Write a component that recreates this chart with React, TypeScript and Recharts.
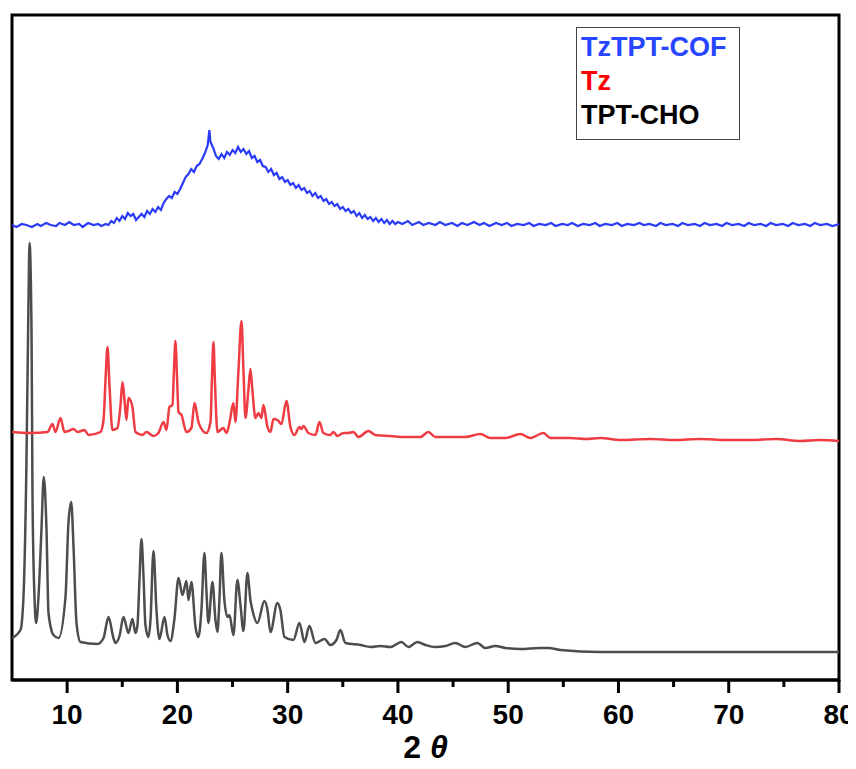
import React from 'react';
import { LineChart, Line, XAxis, YAxis, Label, ReferenceArea } from 'recharts';

// intensity, in px above the x axis (no y scale shown)
const tptCho: [number, number][] = [
  [5.0, 42], [5.77, 50], [6.04, 83], [6.31, 217], [6.5, 383], [6.59, 437], [6.77, 350], [6.86, 183],
  [7.04, 83], [7.19, 57], [7.4, 83], [7.67, 150], [7.88, 203], [8.13, 150], [8.31, 67], [8.76, 45],
  [9.22, 42], [9.85, 83], [10.12, 157], [10.37, 178], [10.58, 133], [10.85, 57], [11.21, 38], [12.75, 36],
  [13.3, 42], [13.75, 63], [14.2, 42], [14.38, 37], [14.75, 44], [15.11, 63], [15.56, 47], [15.92, 61],
  [16.2, 47], [16.38, 55], [16.56, 100], [16.74, 141], [16.92, 105], [17.1, 55], [17.38, 43], [17.56, 60],
  [17.83, 129], [18.1, 70], [18.37, 41], [18.83, 63], [19.1, 45], [19.37, 39], [19.73, 61], [20.1, 102],
  [20.46, 85], [20.82, 99], [21.0, 80], [21.27, 98], [21.64, 53], [21.91, 43], [22.18, 70], [22.45, 127],
  [22.63, 90], [22.81, 57], [23.18, 98], [23.45, 60], [23.63, 48], [23.81, 80], [23.99, 127], [24.26, 80],
  [24.54, 63], [24.72, 65], [25.08, 45], [25.44, 100], [25.72, 75], [25.99, 49], [26.35, 107], [26.62, 80],
  [26.8, 70], [27.26, 57], [27.89, 79], [28.17, 70], [28.44, 48], [29.07, 77], [29.34, 70], [29.71, 43],
  [30.52, 40], [31.07, 57], [31.52, 38], [31.97, 54], [32.52, 37], [33.34, 41], [33.87, 35], [34.42, 40],
  [34.78, 50], [35.24, 37], [36.6, 35], [37.51, 33], [38.41, 34], [39.32, 33], [40.31, 38], [40.95, 33],
  [41.76, 38], [42.49, 35], [43.39, 33], [44.3, 34], [45.21, 37], [46.11, 33], [47.2, 37], [47.93, 32],
  [48.83, 34], [49.74, 32], [51.1, 31], [52.91, 32], [53.64, 32], [54.73, 30], [58.35, 28], [62.89, 28],
  [67.42, 28], [71.95, 28], [76.49, 28], [80, 28],
];

const tz: [number, number][] = [
  [5.0, 248], [6.68, 247], [8.22, 248], [8.67, 256], [8.94, 248], [9.4, 262], [9.76, 248], [10.12, 249],
  [10.58, 251], [10.94, 248], [11.57, 250], [11.94, 245], [13.02, 248], [13.3, 260], [13.48, 300], [13.66, 333],
  [13.84, 295], [14.11, 250], [14.56, 252], [14.84, 275], [15.02, 298], [15.2, 280], [15.38, 260], [15.56, 282],
  [15.83, 277], [15.92, 273], [16.2, 248], [16.83, 245], [17.19, 248], [17.83, 244], [18.28, 247], [18.74, 258],
  [19.01, 250], [19.28, 273], [19.55, 275], [19.69, 310], [19.82, 339], [19.96, 305], [20.1, 268], [20.37, 265],
  [20.82, 248], [21.27, 252], [21.55, 277], [21.91, 258], [22.09, 253], [22.63, 247], [23.0, 258], [23.13, 300],
  [23.27, 338], [23.4, 300], [23.63, 248], [24.17, 252], [24.45, 247], [24.72, 257], [25.08, 277], [25.26, 258],
  [25.54, 310], [25.81, 359], [25.99, 310], [26.17, 262], [26.44, 290], [26.62, 311], [26.8, 290], [27.08, 262],
  [27.35, 267], [27.62, 262], [27.8, 275], [28.17, 253], [28.44, 248], [28.71, 261], [29.07, 260], [29.43, 256],
  [29.89, 279], [30.25, 253], [30.61, 245], [31.07, 253], [31.25, 251], [31.43, 254], [31.88, 247], [32.52, 245],
  [32.88, 258], [33.24, 247], [33.87, 245], [34.15, 248], [34.51, 244], [35.06, 247], [35.51, 247], [35.96, 248],
  [36.42, 243], [37.32, 249], [37.96, 245], [39.32, 244], [40.68, 243], [42.04, 243], [42.76, 248], [43.39, 243],
  [44.75, 243], [46.11, 243], [47.47, 246], [48.38, 242], [49.74, 242], [51.1, 246], [52.01, 242], [53.19, 247],
  [53.82, 242], [55.63, 242], [57.1, 241], [58.35, 242], [60.2, 240], [62.89, 241], [65.1, 240], [67.42, 241],
  [69.8, 240], [71.95, 240], [74.3, 241], [76.49, 239], [78.2, 240], [80, 239],
];

const tzTptCof: [number, number][] = [
  [5.0, 455], [5.4, 453], [5.9, 456], [6.3, 455], [6.8, 453], [7.3, 456], [7.6, 454], [8.1, 457],
  [8.5, 455], [9.0, 454], [9.3, 457], [9.8, 455], [10.2, 458], [10.6, 455], [11.1, 456], [11.4, 453],
  [11.9, 457], [12.4, 455], [12.8, 456], [13.1, 454], [13.5, 456], [13.75, 455], [14.0, 459], [14.25, 457],
  [14.5, 462], [14.75, 459], [15.0, 464], [15.25, 461], [15.5, 467], [15.75, 464], [16.0, 466], [16.25, 460],
  [16.5, 463], [16.75, 466], [17.0, 463], [17.25, 469], [17.5, 466], [17.75, 471], [18.0, 468], [18.25, 473],
  [18.5, 470], [18.75, 477], [19.0, 481], [19.25, 484], [19.5, 482], [19.75, 488], [20.0, 486], [20.25, 491],
  [20.5, 497], [20.75, 503], [21.0, 506], [21.25, 511], [21.5, 508], [21.75, 514], [22.0, 516], [22.25, 521],
  [22.5, 527], [22.75, 535], [22.9, 550], [23.0, 538], [23.25, 532], [23.5, 524], [23.75, 521], [24.0, 526],
  [24.25, 522], [24.5, 528], [24.75, 525], [25.0, 530], [25.25, 527], [25.5, 533], [25.75, 528], [26.0, 531],
  [26.25, 526], [26.5, 529], [26.75, 522], [27.0, 524], [27.25, 518], [27.5, 520], [27.75, 514], [28.0, 513],
  [28.25, 508], [28.5, 511], [28.75, 505], [29.0, 507], [29.25, 501], [29.5, 503], [29.75, 498], [30.0, 500],
  [30.25, 495], [30.5, 497], [30.75, 492], [31.0, 495], [31.25, 490], [31.5, 492], [31.75, 487], [32.0, 489],
  [32.25, 484], [32.5, 487], [32.75, 482], [33.0, 484], [33.25, 479], [33.5, 481], [33.75, 476], [34.0, 478],
  [34.25, 474], [34.5, 476], [34.75, 471], [35.0, 473], [35.25, 469], [35.5, 471], [35.75, 467], [36.0, 469],
  [36.25, 464], [36.5, 467], [36.75, 462], [37.0, 465], [37.25, 461], [37.5, 463], [37.75, 459], [38.0, 462],
  [38.25, 458], [38.5, 461], [38.75, 457], [39.0, 460], [39.25, 456], [39.5, 459], [39.75, 456], [40.0, 458],
  [40.4, 456], [40.9, 459], [41.3, 455], [41.9, 458], [42.3, 455], [42.8, 457], [43.4, 455], [43.8, 458],
  [44.3, 455], [44.9, 457], [45.4, 454], [45.8, 457], [46.3, 455], [46.9, 458], [47.4, 455], [47.8, 457],
  [48.3, 454], [48.9, 457], [49.4, 455], [49.9, 457], [50.3, 454], [50.8, 456], [51.4, 455], [51.9, 457],
  [52.3, 454], [52.8, 456], [53.4, 455], [53.9, 457], [54.3, 454], [54.9, 456], [55.4, 455], [55.8, 457],
  [56.3, 454], [56.8, 456], [57.4, 455], [57.9, 457], [58.3, 454], [58.8, 456], [59.4, 455], [59.9, 457],
  [60.3, 454], [60.8, 456], [61.4, 455], [61.9, 457], [62.3, 455], [62.8, 456], [63.4, 454], [63.8, 457],
  [64.3, 455], [64.9, 456], [65.4, 454], [65.8, 457], [66.3, 455], [66.9, 456], [67.4, 454], [67.8, 457],
  [68.3, 455], [68.9, 456], [69.4, 454], [69.8, 457], [70.3, 455], [70.9, 456], [71.4, 454], [71.8, 457],
  [72.3, 455], [72.9, 456], [73.4, 454], [73.8, 457], [74.3, 455], [74.9, 456], [75.4, 454], [75.8, 457],
  [76.3, 455], [76.9, 456], [77.4, 454], [77.8, 457], [78.3, 455], [78.9, 456], [79.4, 454], [80.0, 456],
];

const xTicks = [10, 15, 20, 25, 30, 35, 40, 45, 50, 55, 60, 65, 70, 75, 80];

const legendItems = [
  { name: 'TzTPT-COF', color: '#2846ff' },
  { name: 'Tz', color: '#ff0000' },
  { name: 'TPT-CHO', color: '#000000' },
];

const FONT = '"Liberation Sans", Arial, sans-serif';

const toPoints = (arr: [number, number][]) => arr.map(([x, y]) => ({ x, y }));

const AxisTick = ({ x, y, payload }: { x?: number; y?: number; payload?: { value: number } }) => {
  if (x == null || y == null || !payload) return null;
  const major = payload.value % 10 === 0;
  return (
    <g>
      <line x1={x} x2={x} y1={y} y2={y + (major ? 13 : 7)} stroke="#000" strokeWidth={3} />
      {major && (
        <text x={x} y={y + 44} textAnchor="middle" fontFamily={FONT} fontWeight="bold" fontSize={28} fill="#000">
          {payload.value}
        </text>
      )}
    </g>
  );
};

const AxisTitle = ({ viewBox }: { viewBox?: { x: number; y: number; width: number; height: number } }) => {
  if (!viewBox) return null;
  const cx = viewBox.x + viewBox.width / 2;
  return (
    <text x={cx} y={viewBox.y + 78} textAnchor="middle" fontFamily={FONT} fontWeight="bold" fontSize={32} fill="#000">
      <tspan>2 </tspan>
      <tspan fontStyle="italic">θ</tspan>
    </text>
  );
};

export default function App() {
  return (
    <div style={{ position: 'relative', width: 848, height: 761 }}>
      <LineChart width={848} height={761} margin={{ top: 7, right: 17, bottom: 9, left: 4 }}>
        <XAxis
          dataKey="x"
          type="number"
          domain={[5, 80]}
          ticks={xTicks}
          interval={0}
          allowDataOverflow
          height={80}
          tickSize={0}
          tickMargin={0}
          tickLine={false}
          axisLine={{ stroke: '#000', strokeWidth: 3 }}
          tick={<AxisTick />}
        >
          <Label content={<AxisTitle />} />
        </XAxis>
        <YAxis yAxisId="left" type="number" domain={[0, 665]} hide allowDataOverflow />
        <Line
          yAxisId="left"
          data={toPoints(tptCho)}
          dataKey="y"
          type="monotone"
          stroke="#4d4d4d"
          strokeWidth={2.5}
          dot={false}
          isAnimationActive={false}
        />
        <Line
          yAxisId="left"
          data={toPoints(tz)}
          dataKey="y"
          type="monotone"
          stroke="#ef3b42"
          strokeWidth={2.5}
          dot={false}
          isAnimationActive={false}
        />
        <Line
          yAxisId="left"
          data={toPoints(tzTptCof)}
          dataKey="y"
          type="linear"
          stroke="#2a3cf5"
          strokeWidth={2.2}
          dot={false}
          isAnimationActive={false}
        />
        <ReferenceArea
          yAxisId="left"
          x1={5}
          x2={80}
          y1={0}
          y2={665}
          fill="none"
          stroke="#000"
          strokeWidth={3}
          ifOverflow="visible"
        />
      </LineChart>
      <div
        style={{
          position: 'absolute',
          left: 568,
          top: 19,
          width: 158,
          height: 109,
          border: '1px solid #444',
          padding: '2px 0 0 4px',
          boxSizing: 'content-box',
          fontFamily: FONT,
          fontWeight: 'bold',
          fontSize: 27,
          background: '#fff',
        }}
      >
        {legendItems.map((item) => (
          <div key={item.name} style={{ height: 34, lineHeight: '34px', color: item.color, whiteSpace: 'nowrap' }}>
            {item.name}
          </div>
        ))}
      </div>
    </div>
  );
}
